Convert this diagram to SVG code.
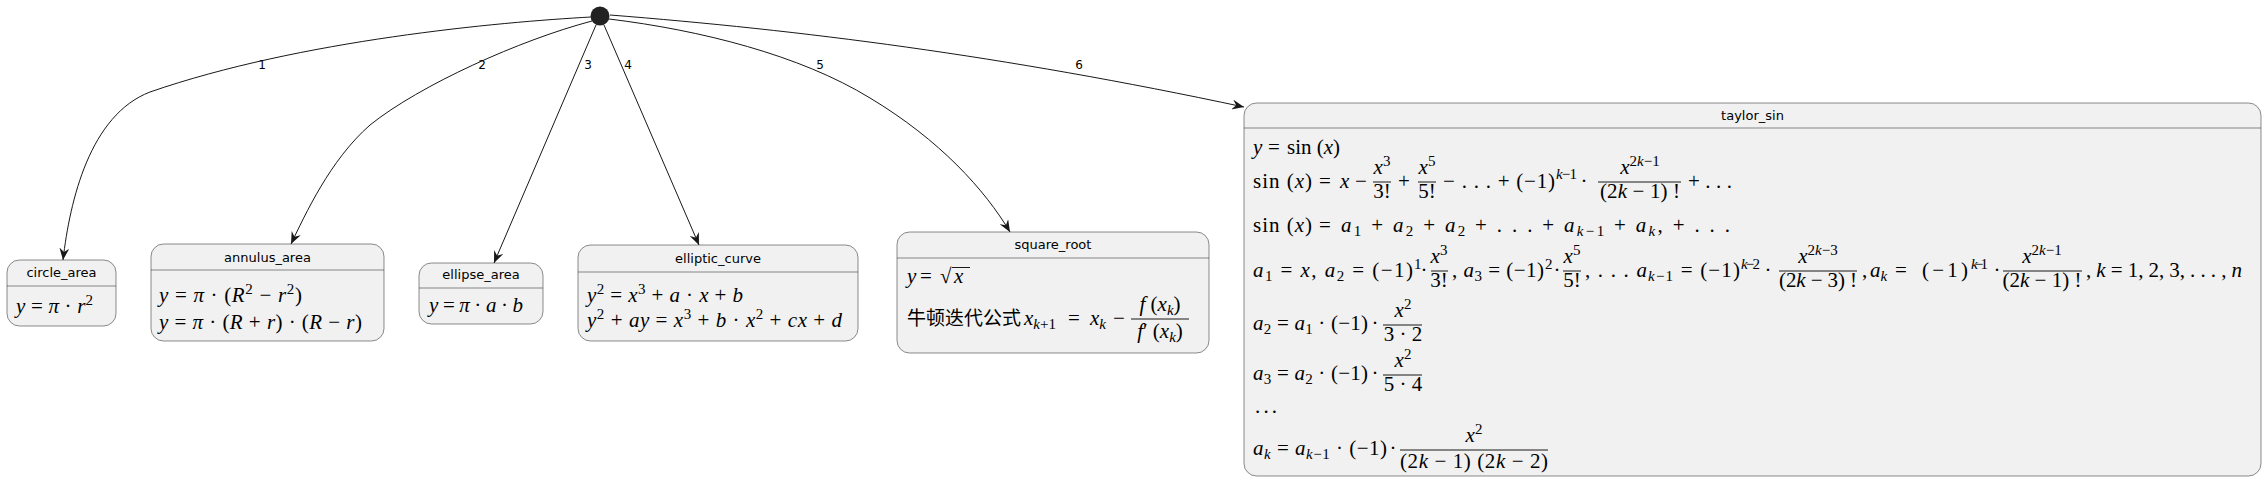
<svg xmlns="http://www.w3.org/2000/svg" width="2268" height="488" viewBox="0 0 2268 488">
<style>
.m{font-family:"Liberation Serif",serif;font-size:21px;fill:#000}
.i{font-style:italic}
.sp{font-size:15px}
.c{text-anchor:middle}
.t{font-family:"DejaVu Sans",sans-serif;font-size:13px;fill:#000;text-anchor:middle}
.lb{font-family:"DejaVu Sans",sans-serif;font-size:12px;fill:#000;text-anchor:middle}
.cjk{font-family:"Noto Sans CJK SC",sans-serif;font-size:19px;fill:#000}
.box{fill:#F1F1F1;stroke:#181818;stroke-width:0.5}
.sep{stroke:#181818;stroke-width:0.5}
.bar{stroke:#000;stroke-width:0.9}
.e{fill:none;stroke:#181818;stroke-width:1;marker-end:url(#ah)}
</style>
<defs>
<marker id="ah" markerUnits="userSpaceOnUse" viewBox="0 0 12 10" refX="12" refY="5" markerWidth="12" markerHeight="10" orient="auto">
<path d="M0,0 L12,5 L0,10 L4,5 Z" fill="#181818"/>
</marker>
</defs>
<rect width="2268" height="488" fill="#FFFFFF"/>

<g id="start"><circle cx="600" cy="16" r="9.5" fill="#222222"/></g>

<g id="connectors">
<path class="e" d="M591,17 C500,22 300,40 150,92 C90,115 70,200 63,260"/>
<path class="e" d="M592,21 C520,40 420,85 370,125 C330,160 305,215 291,244"/>
<path class="e" d="M596,25 L494,263"/>
<path class="e" d="M604,25 L699,245"/>
<path class="e" d="M609,19 C700,30 800,55 870,98 C940,140 985,190 1010,232"/>
<path class="e" d="M610,15 C800,30 1000,55 1244,107"/>
<text class="lb" x="262" y="69">1</text>
<text class="lb" x="482" y="69">2</text>
<text class="lb" x="588" y="69">3</text>
<text class="lb" x="628" y="69">4</text>
<text class="lb" x="820" y="69">5</text>
<text class="lb" x="1079" y="69">6</text>
</g>

<g id="circle_area">
<rect class="box" x="7" y="260" width="109" height="66" rx="12.5"/>
<line class="sep" x1="7" y1="286" x2="116" y2="286"/>
<text class="t" x="61.5" y="277">circle_area</text>
<text class="m" x="16" y="313" textLength="77"><tspan class="i">y</tspan> = <tspan class="i">π</tspan> · <tspan class="i">r</tspan><tspan class="sp" dy="-8">2</tspan></text>
</g>

<g id="annulus_area">
<rect class="box" x="151" y="244" width="233" height="97" rx="12.5"/>
<line class="sep" x1="151" y1="270" x2="384" y2="270"/>
<text class="t" x="267.5" y="262">annulus_area</text>
<text class="m" x="159" y="302" textLength="143"><tspan class="i">y</tspan> = <tspan class="i">π</tspan> · (<tspan class="i">R</tspan><tspan class="sp" dy="-8">2</tspan><tspan dy="8"> − </tspan><tspan class="i">r</tspan><tspan class="sp" dy="-8">2</tspan><tspan dy="8">)</tspan></text>
<text class="m" x="159" y="329" textLength="203"><tspan class="i">y</tspan> = <tspan class="i">π</tspan> · (<tspan class="i">R</tspan> + <tspan class="i">r</tspan>) · (<tspan class="i">R</tspan> − <tspan class="i">r</tspan>)</text>
</g>

<g id="ellipse_area">
<rect class="box" x="419" y="263" width="124" height="61" rx="12.5"/>
<line class="sep" x1="419" y1="288" x2="543" y2="288"/>
<text class="t" x="481" y="279">ellipse_area</text>
<text class="m" x="429" y="312" textLength="94"><tspan class="i">y</tspan> = <tspan class="i">π</tspan> · <tspan class="i">a</tspan> · <tspan class="i">b</tspan></text>
</g>

<g id="elliptic_curve">
<rect class="box" x="578" y="245" width="280" height="96" rx="12.5"/>
<line class="sep" x1="578" y1="272" x2="858" y2="272"/>
<text class="t" x="718" y="263">elliptic_curve</text>
<text class="m" x="587" y="302" textLength="156"><tspan class="i">y</tspan><tspan class="sp" dy="-8">2</tspan><tspan dy="8"> = </tspan><tspan class="i">x</tspan><tspan class="sp" dy="-8">3</tspan><tspan dy="8"> + </tspan><tspan class="i">a</tspan> · <tspan class="i">x</tspan> + <tspan class="i">b</tspan></text>
<text class="m" x="587" y="327" textLength="255"><tspan class="i">y</tspan><tspan class="sp" dy="-8">2</tspan><tspan dy="8"> + </tspan><tspan class="i">ay</tspan> = <tspan class="i">x</tspan><tspan class="sp" dy="-8">3</tspan><tspan dy="8"> + </tspan><tspan class="i">b</tspan> · <tspan class="i">x</tspan><tspan class="sp" dy="-8">2</tspan><tspan dy="8"> + </tspan><tspan class="i">cx</tspan> + <tspan class="i">d</tspan></text>
</g>

<g id="square_root">
<rect class="box" x="897" y="232" width="312" height="121" rx="12.5"/>
<line class="sep" x1="897" y1="258" x2="1209" y2="258"/>
<text class="t" x="1053" y="249">square_root</text>
<text class="m" x="907" y="283"><tspan class="i">y</tspan><tspan x="920">=</tspan><tspan x="940">√</tspan><tspan class="i" x="954">x</tspan></text>
<line class="bar" x1="952" y1="267.5" x2="970" y2="267.5"/>
<text class="cjk" x="907" y="325" textLength="114">牛顿迭代公式</text>
<text class="m" x="1024" y="325"><tspan class="i">x</tspan><tspan class="sp" dy="4"><tspan class="i">k</tspan>+1</tspan><tspan dy="-4" x="1068">=</tspan><tspan class="i" x="1090">x</tspan><tspan class="sp i" dy="4">k</tspan><tspan dy="-4" x="1113">−</tspan></text>
<line class="bar" x1="1131" y1="319" x2="1189" y2="319"/>
<text class="m c" x="1160" y="311"><tspan class="i">f</tspan> (<tspan class="i">x</tspan><tspan class="sp i" dy="4">k</tspan><tspan dy="-4">)</tspan></text>
<text class="m c" x="1160" y="338"><tspan class="i">f</tspan>′ (<tspan class="i">x</tspan><tspan class="sp i" dy="4">k</tspan><tspan dy="-4">)</tspan></text>
</g>

<g id="taylor_sin">
<rect class="box" x="1244" y="103" width="1017" height="373" rx="12.5"/>
<line class="sep" x1="1244" y1="128" x2="2261" y2="128"/>
<text class="t" x="1752.5" y="120">taylor_sin</text>
<text class="m" x="1253" y="154"><tspan class="i">y</tspan><tspan x="1268">=</tspan><tspan x="1287">sin (</tspan><tspan class="i">x</tspan>)</text>

<text class="m" x="1253" y="188" textLength="59">sin (<tspan class="i">x</tspan>)</text>
<text class="m" x="1319" y="188">=<tspan class="i" x="1340">x</tspan><tspan x="1355">−</tspan></text>
<text class="m c" x="1382" y="174"><tspan class="i">x</tspan><tspan class="sp" dy="-8">3</tspan></text>
<line class="bar" x1="1373" y1="182" x2="1391" y2="182"/>
<text class="m c" x="1382" y="198">3!</text>
<text class="m" x="1398" y="188">+</text>
<text class="m c" x="1427" y="174"><tspan class="i">x</tspan><tspan class="sp" dy="-8">5</tspan></text>
<line class="bar" x1="1418" y1="182" x2="1436" y2="182"/>
<text class="m c" x="1427" y="198">5!</text>
<text class="m" x="1443" y="188" textLength="112">− . . . + (−1)</text>
<text class="m sp" x="1556" y="179" textLength="21"><tspan class="i">k</tspan>−1</text>
<text class="m c" x="1584" y="188">·</text>
<text class="m c" x="1640" y="174"><tspan class="i">x</tspan><tspan class="sp" dy="-8">2<tspan class="i">k</tspan>−1</tspan></text>
<line class="bar" x1="1598" y1="182" x2="1681" y2="182"/>
<text class="m c" x="1640" y="198" textLength="80">(2<tspan class="i">k</tspan> − 1) !</text>
<text class="m" x="1688" y="188" textLength="44">+ . . .</text>

<text class="m" x="1253" y="232" textLength="59">sin (<tspan class="i">x</tspan>)</text>
<text class="m" x="1319" y="232">=</text>
<text class="m" x="1341" y="232" textLength="389"><tspan class="i">a</tspan><tspan class="sp" dy="4">1</tspan><tspan dy="-4"> + </tspan><tspan class="i">a</tspan><tspan class="sp" dy="4">2</tspan><tspan dy="-4"> + </tspan><tspan class="i">a</tspan><tspan class="sp" dy="4">2</tspan><tspan dy="-4"> + . . . + </tspan><tspan class="i">a</tspan><tspan class="sp" dy="4"><tspan class="i">k</tspan>−1</tspan><tspan dy="-4"> + </tspan><tspan class="i">a</tspan><tspan class="sp i" dy="4">k</tspan><tspan dy="-4">, + . . .</tspan></text>

<text class="m" x="1253" y="277" textLength="160"><tspan class="i">a</tspan><tspan class="sp" dy="4">1</tspan><tspan dy="-4"> = </tspan><tspan class="i">x</tspan>, <tspan class="i">a</tspan><tspan class="sp" dy="4">2</tspan><tspan dy="-4"> = (−1)</tspan></text>
<text class="m sp" x="1414" y="269">1</text>
<text class="m c" x="1424" y="277">·</text>
<text class="m c" x="1439" y="263"><tspan class="i">x</tspan><tspan class="sp" dy="-8">3</tspan></text>
<line class="bar" x1="1431" y1="271" x2="1448" y2="271"/>
<text class="m c" x="1439" y="287">3!</text>
<text class="m" x="1452" y="277" textLength="92">, <tspan class="i">a</tspan><tspan class="sp" dy="4">3</tspan><tspan dy="-4"> = (−1)</tspan></text>
<text class="m sp" x="1545" y="269">2</text>
<text class="m c" x="1557" y="277">·</text>
<text class="m c" x="1572" y="263"><tspan class="i">x</tspan><tspan class="sp" dy="-8">5</tspan></text>
<line class="bar" x1="1563" y1="271" x2="1581" y2="271"/>
<text class="m c" x="1572" y="287">5!</text>
<text class="m" x="1585" y="277" textLength="155">, . . . <tspan class="i">a</tspan><tspan class="sp" dy="4"><tspan class="i">k</tspan>−1</tspan><tspan dy="-4"> = (−1)</tspan></text>
<text class="m sp" x="1741" y="269" textLength="19"><tspan class="i">k</tspan>−2</text>
<text class="m c" x="1768" y="277">·</text>
<text class="m c" x="1818" y="263"><tspan class="i">x</tspan><tspan class="sp" dy="-8">2<tspan class="i">k</tspan>−3</tspan></text>
<line class="bar" x1="1779" y1="271" x2="1857" y2="271"/>
<text class="m c" x="1818" y="287" textLength="78">(2<tspan class="i">k</tspan> − 3) !</text>
<text class="m" x="1862" y="277">,<tspan class="i" x="1870">a</tspan><tspan class="sp i" dy="4">k</tspan><tspan dy="-4" x="1895">=</tspan></text>
<text class="m" x="1922" y="277" textLength="46">(−1)</text>
<text class="m sp" x="1971" y="269" textLength="17"><tspan class="i">k</tspan>−1</text>
<text class="m c" x="1997" y="277">·</text>
<text class="m c" x="2042" y="263"><tspan class="i">x</tspan><tspan class="sp" dy="-8">2<tspan class="i">k</tspan>−1</tspan></text>
<line class="bar" x1="2003" y1="271" x2="2082" y2="271"/>
<text class="m c" x="2042" y="287" textLength="79">(2<tspan class="i">k</tspan> − 1) !</text>
<text class="m" x="2086" y="277" textLength="156">, <tspan class="i">k</tspan> = 1, 2, 3, . . . , <tspan class="i">n</tspan></text>

<text class="m" x="1253" y="330" textLength="115"><tspan class="i">a</tspan><tspan class="sp" dy="4">2</tspan><tspan dy="-4"> = </tspan><tspan class="i">a</tspan><tspan class="sp" dy="4">1</tspan><tspan dy="-4"> · (−1)</tspan></text>
<text class="m c" x="1375" y="330">·</text>
<text class="m c" x="1403" y="317"><tspan class="i">x</tspan><tspan class="sp" dy="-8">2</tspan></text>
<line class="bar" x1="1383" y1="325" x2="1422" y2="325"/>
<text class="m c" x="1403" y="341">3 · 2</text>

<text class="m" x="1253" y="380" textLength="115"><tspan class="i">a</tspan><tspan class="sp" dy="4">3</tspan><tspan dy="-4"> = </tspan><tspan class="i">a</tspan><tspan class="sp" dy="4">2</tspan><tspan dy="-4"> · (−1)</tspan></text>
<text class="m c" x="1375" y="380">·</text>
<text class="m c" x="1403" y="367"><tspan class="i">x</tspan><tspan class="sp" dy="-8">2</tspan></text>
<line class="bar" x1="1383" y1="375" x2="1422" y2="375"/>
<text class="m c" x="1403" y="391">5 · 4</text>

<text class="m" x="1255" y="413" textLength="22">. . .</text>

<text class="m" x="1253" y="455" textLength="134"><tspan class="i">a</tspan><tspan class="sp i" dy="4">k</tspan><tspan dy="-4"> = </tspan><tspan class="i">a</tspan><tspan class="sp" dy="4"><tspan class="i">k</tspan>−1</tspan><tspan dy="-4"> · (−1)</tspan></text>
<text class="m c" x="1393" y="455">·</text>
<text class="m c" x="1474" y="442"><tspan class="i">x</tspan><tspan class="sp" dy="-8">2</tspan></text>
<line class="bar" x1="1400" y1="450" x2="1548" y2="450"/>
<text class="m c" x="1474" y="468" textLength="148">(2<tspan class="i">k</tspan> − 1) (2<tspan class="i">k</tspan> − 2)</text>
</g>
</svg>
